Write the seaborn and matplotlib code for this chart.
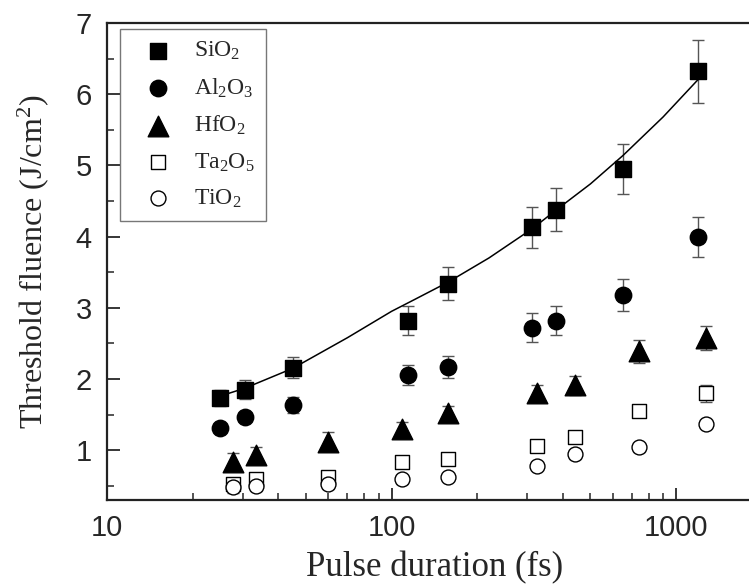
import matplotlib
matplotlib.use("Agg")
import matplotlib.pyplot as plt
from matplotlib.ticker import LogLocator, MultipleLocator, NullFormatter, FixedLocator, FixedFormatter
import seaborn as sns

# ---- data ----
sio2_t = [25, 30.5, 45, 114, 158, 312, 378, 651, 1191]
sio2_f = [1.73, 1.85, 2.16, 2.82, 3.34, 4.13, 4.38, 4.95, 6.32]
sio2_e = [0.11, 0.13, 0.15, 0.20, 0.23, 0.29, 0.30, 0.35, 0.44]

al2o3_t = [25, 30.5, 45, 114, 158, 312, 378, 651, 1191]
al2o3_f = [1.31, 1.46, 1.63, 2.05, 2.17, 2.72, 2.82, 3.18, 3.99]
al2o3_e = [0.04, 0.05, 0.11, 0.14, 0.15, 0.20, 0.20, 0.22, 0.28]

hfo2_t = [27.8, 33.3, 60, 108.6, 158, 324, 443, 739, 1274]
hfo2_f = [0.84, 0.93, 1.12, 1.30, 1.52, 1.80, 1.91, 2.39, 2.57]
hfo2_e = [0.12, 0.12, 0.13, 0.10, 0.10, 0.12, 0.13, 0.16, 0.17]

ta2o5_t = [27.8, 33.3, 60, 108.6, 158, 324, 443, 739, 1274]
ta2o5_f = [0.53, 0.59, 0.63, 0.83, 0.87, 1.06, 1.18, 1.55, 1.80]
ta2o5_e = [0.06, 0.06, 0.07, 0.06, 0.06, 0.06, 0.05, 0.06, 0.12]

tio2_t = [27.8, 33.3, 60, 108.6, 158, 324, 443, 739, 1274]
tio2_f = [0.48, 0.49, 0.52, 0.59, 0.62, 0.78, 0.94, 1.04, 1.37]
tio2_e = [0.08, 0.06, 0.06, 0.06, 0.05, 0.05, 0.06, 0.06, 0.04]

# fit curve through the SiO2 data
fit_t = [25, 30.5, 45, 70, 100, 121, 158, 220, 312, 378, 500, 651, 900, 1191]
fit_f = [1.76, 1.87, 2.15, 2.58, 2.95, 3.12, 3.36, 3.70, 4.11, 4.37, 4.74, 5.14, 5.68, 6.20]

series = [
    (r"SiO$_2$", sio2_t, sio2_f, sio2_e, "s", 125, "black"),
    (r"Al$_2$O$_3$", al2o3_t, al2o3_f, al2o3_e, "o", 140, "black"),
    (r"HfO$_2$", hfo2_t, hfo2_f, hfo2_e, "^", 220, "black"),
    (r"Ta$_2$O$_5$", ta2o5_t, ta2o5_f, ta2o5_e, "s", 95, "white"),
    (r"TiO$_2$", tio2_t, tio2_f, tio2_e, "o", 115, "white"),
]

sns.set_style("ticks")
plt.rcParams["font.family"] = ["Liberation Sans", "DejaVu Sans"]
plt.rcParams["mathtext.fontset"] = "custom"
plt.rcParams["mathtext.rm"] = "Liberation Serif"
plt.rcParams["mathtext.it"] = "Liberation Serif:italic"

fig = plt.figure(figsize=(7.49, 5.84), dpi=100)
ax = fig.add_axes([107 / 749, 84 / 584, 656 / 749, 477 / 584])

sns.lineplot(x=fit_t, y=fit_f, color="black", linewidth=1.1, ax=ax, zorder=2)

for label, t, f, e, mk, size, face in series:
    ax.errorbar(t, f, yerr=e, fmt="none", ecolor="#555555", elinewidth=1.0,
                capsize=4, capthick=1.0, zorder=1)
    sns.scatterplot(x=t, y=f, marker=mk, s=size, color=face, edgecolor="black",
                    linewidth=1.0, label=label, ax=ax, zorder=3)

ax.set_xscale("log")
ax.set_xlim(10, 2020)
ax.set_ylim(0.3, 7.0)

ax.xaxis.set_major_locator(FixedLocator([10, 100, 1000]))
ax.xaxis.set_major_formatter(FixedFormatter(["10", "100", "1000"]))
ax.xaxis.set_minor_locator(LogLocator(base=10, subs=range(2, 10)))
ax.xaxis.set_minor_formatter(NullFormatter())
ax.yaxis.set_major_locator(MultipleLocator(1))
ax.yaxis.set_minor_locator(MultipleLocator(0.5))

ax.tick_params(which="major", direction="in", length=9, width=1.3,
               labelsize=21)
ax.tick_params(which="minor", direction="in", length=5, width=1.1)
ax.tick_params(axis="x", which="major", pad=10)
ax.tick_params(axis="y", which="major", pad=11)

for side in ["left", "bottom", "top"]:
    ax.spines[side].set_linewidth(1.6)
    ax.spines[side].set_color("#222222")
ax.spines["right"].set_visible(False)

ax.set_xlabel("Pulse duration (fs)", family=["Liberation Serif"], fontsize=25)
ax.set_ylabel(r"Threshold fluence (J/cm$^2$)", family=["Liberation Serif"], fontsize=23)
ax.xaxis.set_label_coords(0.5, -0.108)
ax.yaxis.set_label_coords(-0.086, 0.5)

leg = ax.legend(loc="upper left", bbox_to_anchor=(0.02, 0.987), borderaxespad=0,
                prop={"family": "Liberation Serif", "size": 17},
                frameon=True, fancybox=False, edgecolor="#555555",
                handlelength=2.3, handletextpad=0.4, borderpad=0.45,
                labelspacing=0.6, scatterpoints=1)
leg.get_frame().set_linewidth(1.0)

fig.savefig("out.png", dpi=100)
